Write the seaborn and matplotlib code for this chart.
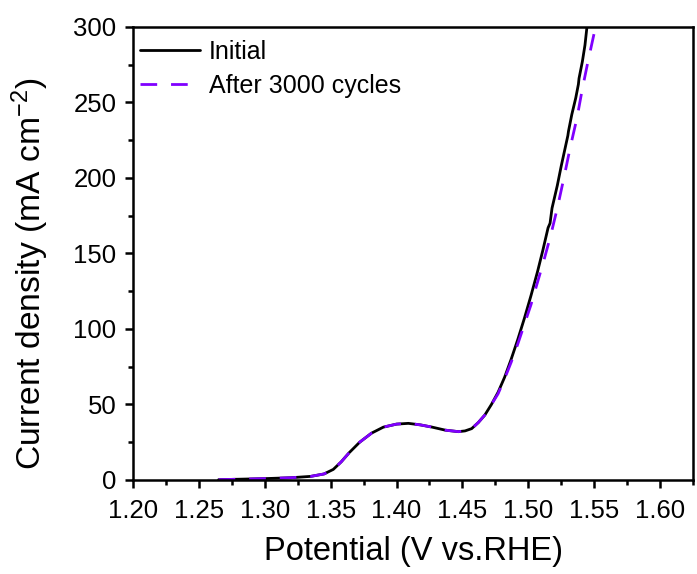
import matplotlib
matplotlib.use("Agg")
import matplotlib.pyplot as plt
from matplotlib.ticker import MultipleLocator, FormatStrFormatter
import seaborn as sns
import pandas as pd

# Polarization curves (potential in V vs. RHE, current density in mA cm^-2)
initial_v = [1.265, 1.28, 1.30, 1.32, 1.335, 1.345, 1.352, 1.358, 1.364, 1.372,
             1.381, 1.390, 1.400, 1.409, 1.418, 1.427, 1.437, 1.447, 1.452, 1.457,
             1.462, 1.467, 1.472, 1.477, 1.482, 1.487, 1.492, 1.497, 1.502, 1.507,
             1.511, 1.515, 1.5165, 1.518, 1.522, 1.525, 1.528, 1.530, 1.5305, 1.533,
             1.536, 1.538, 1.5385, 1.541, 1.543, 1.5445]
initial_j = [0.2, 0.5, 0.9, 1.5, 2.4, 4.0, 7.0, 12, 18, 25,
             31, 35, 37, 37.5, 36.5, 35, 33, 32, 32.5, 34,
             38, 43, 50, 58, 68, 80, 93, 107, 122, 138,
             152, 167, 170, 180, 195, 208, 220, 228, 231, 242,
             253, 262, 266, 277, 288, 300]

after_v = [1.265, 1.28, 1.30, 1.32, 1.335, 1.345, 1.352, 1.358, 1.364, 1.372,
           1.381, 1.390, 1.400, 1.409, 1.418, 1.427, 1.437, 1.447, 1.452, 1.457,
           1.462, 1.467, 1.472, 1.477, 1.482, 1.487, 1.492, 1.497, 1.502, 1.507,
           1.512, 1.517, 1.522, 1.527, 1.532, 1.537, 1.541, 1.545, 1.548, 1.551]
after_j = [0.2, 0.5, 0.9, 1.5, 2.4, 4.0, 7.0, 12, 18, 25,
           31, 35, 37, 37.5, 36.5, 35, 33, 32, 32.5, 34,
           38, 43, 50, 57, 67, 78, 90, 103, 116, 131,
           146, 162, 180, 200, 221, 240, 259, 276, 288, 300]

labels = ["Initial", "After 3000 cycles"]
colors = ["#000000", "#8000FF"]

df_initial = pd.DataFrame({"Potential": initial_v, "Current": initial_j})
df_after = pd.DataFrame({"Potential": after_v, "Current": after_j})

sns.set_style("ticks")
plt.rcParams["font.family"] = ["Liberation Sans", "DejaVu Sans"]
plt.rcParams["mathtext.fontset"] = "custom"
plt.rcParams["mathtext.rm"] = "Liberation Sans"
plt.rcParams["mathtext.it"] = "Liberation Sans"
plt.rcParams["text.color"] = "black"
plt.rcParams["axes.labelcolor"] = "black"

fig = plt.figure(figsize=(6.97, 5.74), dpi=100)
ax = fig.add_axes([0.1908, 0.1638, 0.8035, 0.7892])

sns.lineplot(data=df_initial, x="Potential", y="Current", ax=ax, sort=False,
             estimator=None, color=colors[0], linewidth=2.0, label=labels[0])
sns.lineplot(data=df_after, x="Potential", y="Current", ax=ax, sort=False,
             estimator=None, color=colors[1], linewidth=2.0,
             linestyle=(0, (6, 5)), label=labels[1])

ax.set_xlim(1.20, 1.625)
ax.set_ylim(0, 300)
ax.xaxis.set_major_locator(MultipleLocator(0.05))
ax.xaxis.set_minor_locator(MultipleLocator(0.025))
ax.xaxis.set_major_formatter(FormatStrFormatter("%.2f"))
ax.yaxis.set_major_locator(MultipleLocator(50))
ax.yaxis.set_minor_locator(MultipleLocator(25))

for side in ["top", "right", "bottom", "left"]:
    ax.spines[side].set_visible(True)
    ax.spines[side].set_linewidth(1.8)
    ax.spines[side].set_color("black")

ax.tick_params(axis="both", which="major", direction="out", length=6, width=1.8,
               labelsize=18.5, colors="black")
ax.tick_params(axis="x", which="major", pad=8)
ax.tick_params(axis="y", which="major", pad=6)
ax.tick_params(axis="both", which="minor", direction="out", length=3.5, width=1.8,
               colors="black")
ax.tick_params(top=False, right=False, which="both")

ax.set_xlabel("Potential (V vs.RHE)", fontsize=23.5, labelpad=9)
ax.set_ylabel("Current density (mA cm$^{-2}$)", fontsize=24.2)
ax.yaxis.set_label_coords(-0.146, 0.455)

leg = ax.legend(loc="upper left", bbox_to_anchor=(0.0125, 0.972), frameon=False,
                fontsize=18, handlelength=2.4, handletextpad=0.35,
                labelspacing=0.4, borderpad=0, borderaxespad=0)

fig.savefig("out.png", dpi=100)
